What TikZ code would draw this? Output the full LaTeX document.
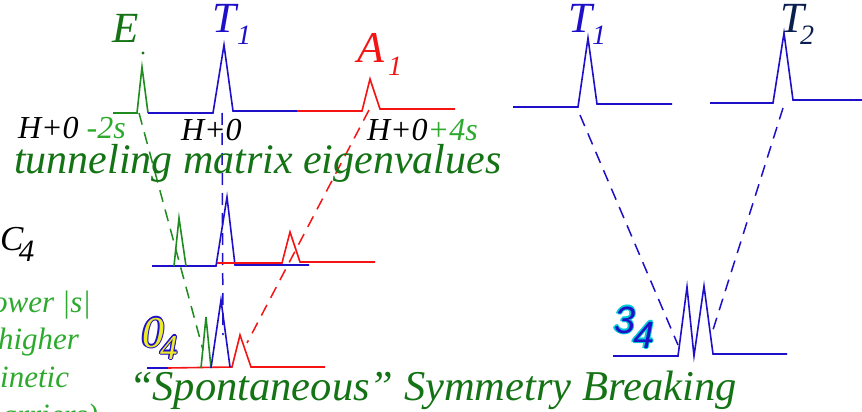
\documentclass[tikz,border=0pt]{standalone}
\usepackage{fontspec}
\setmainfont{Liberation Serif}
\newfontfamily\sansfam{Liberation Sans}
\definecolor{dgreen}{RGB}{20,115,20}
\definecolor{lgreen}{RGB}{45,170,45}
\definecolor{lngreen}{RGB}{30,140,30}
\definecolor{sblue}{RGB}{30,15,200}
\definecolor{sred}{RGB}{245,20,20}
\definecolor{navy}{RGB}{10,30,80}
\definecolor{cyanh}{RGB}{0,205,215}
\definecolor{yel}{RGB}{235,235,40}
\newcommand{\myfs}[1]{\fontsize{#1}{#1}\selectfont}
\newcommand{\halo}[6]{% #1 x, #2 y, #3 halo colour, #4 text colour, #5 offset, #6 text
  \foreach \dx/\dy in {1/0,-1/0,0/1,0/-1,0.7/0.7,-0.7/0.7,0.7/-0.7,-0.7/-0.7}{
    \node[lbl,text=#3] at ($(#1,#2)+(#5*\dx,#5*\dy)$) {#6};}
  \node[lbl,text=#4] at (#1,#2) {#6};}
\usetikzlibrary{calc}
\tikzset{
  x=1pt, y=-1pt,
  spec/.style={line width=1.6pt, line join=miter},
  dsh/.style={line width=1.5pt, dash pattern=on 12pt off 8pt},
  lbl/.style={anchor=base west, inner sep=0pt, outer sep=0pt, font=\itshape},
}
\begin{document}
\begin{tikzpicture}
\useasboundingbox (0,0) rectangle (862,412);
\clip (0,0) rectangle (862,412);
\fill[white] (0,0) rectangle (862,412);

% ---------- coordinates ----------
\coordinate (Es) at (139,113);  \coordinate (Ee) at (203,350);
\coordinate (Ts) at (222,113);  \coordinate (Te) at (223,335);
\coordinate (As) at (369,110);  \coordinate (Ae) at (247,343);
\coordinate (Rs) at (580,115);  \coordinate (Re) at (678,345);
\coordinate (Qs) at (783,108);  \coordinate (Qe) at (712,333);

% ---------- dashed correlation lines ----------
\draw[dsh,lngreen] (Es) -- (Ee);
\draw[dsh,sblue] (Ts) -- (Te);
\draw[dsh,sred] (As) -- (Ae);
\draw[dsh,sblue] (Rs) -- (Re);
\draw[dsh,sblue] (Qs) -- (Qe);

% ---------- top spectrum ----------
\draw[spec,lngreen] (113,113) -- (137,113) -- (142,67) -- (148,113);
\fill[dgreen] (143,53) circle (1.6);
\draw[spec,sblue] (148,113) -- (213,113) -- (224,45) -- (233,111) -- (297,111);
\draw[spec,sred] (297,111) -- (362,111) -- (370,79) -- (380,109) -- (455,109);

% ---------- middle spectrum ----------
\draw[spec,sblue] (152,266) -- (216,266) -- (227,197) -- (235,265) -- (309,265);
\draw[spec,sred] (217,263) -- (282,263) -- (290,232) -- (300,262) -- (375,262);
\draw[spec,lngreen] (174,266) -- (179,218) -- (186,266);

% ---------- bottom spectrum ----------
\draw[spec,sblue] (147,368) -- (168,368);
\draw[spec,sred] (168,368) -- (232,367) -- (240,335) -- (251,367) -- (325,367);
\draw[spec,lngreen] (201,368) -- (206,317) -- (211,368);
\draw[spec,sblue] (211,368) -- (221,300) -- (230,367);

% ---------- right spectra ----------
\draw[spec,sblue] (513,107) -- (578,107) -- (588,38) -- (597,104) -- (672,104);
\draw[spec,sblue] (710,103) -- (773,103) -- (784,33) -- (793,100) -- (862,100);
\draw[spec,sblue] (613,356) -- (678,356) -- (687,287) -- (694,356) -- (704,286) -- (713,354) -- (787,354);

% ---------- labels ----------
\node[lbl,text=dgreen,font=\itshape\myfs{43}] (lE) at (112,43) {E};
\node[lbl,text=sblue,font=\itshape\myfs{43}] (lT) at (212,33) {T};
\node[lbl,text=sblue,font=\itshape\myfs{28}] (lT1) at (237,45) {1};
\node[lbl,text=sred,font=\itshape\myfs{44}] (lA) at (357,63) {A};
\node[lbl,text=sred,font=\itshape\myfs{28}] (lA1) at (388,76) {1};
\node[lbl,text=sblue,font=\itshape\myfs{43}] (rT) at (568,33) {T};
\node[lbl,text=sblue,font=\itshape\myfs{28}] (rT1) at (592,45) {1};
\node[lbl,text=navy,font=\itshape\myfs{43}] (rQ) at (780,33) {T};
\node[lbl,text=navy,font=\itshape\myfs{28}] (rQ2) at (800,45) {2};

\node[lbl,font=\itshape\myfs{32}] (h1) at (18,138) {H+0 \textcolor{lgreen}{-2s}};
\node[lbl,font=\itshape\myfs{32}] (h2) at (181,140) {H+0};
\node[lbl,font=\itshape\myfs{32}] (h3) at (367,140) {H+0\textcolor{lgreen}{+4s}};
\node[lbl,text=dgreen,font=\itshape\myfs{42}] (tm) at (14,173) {tunneling matrix eigenvalues};

\node[lbl,font=\itshape\myfs{35}] (c4) at (0,250) {C};
\node[lbl,font=\itshape\myfs{31}] (c4s) at (19,261) {4};

\node[lbl,text=lgreen,font=\itshape\myfs{31},anchor=base east] (g1) at (91,312) {ower |s|};
\node[lbl,text=lgreen,font=\itshape\myfs{31},anchor=base east] (g2) at (79,349) {higher};
\node[lbl,text=lgreen,font=\itshape\myfs{31},anchor=base east] (g3) at (69,387) {inetic};
\node[lbl,text=lgreen,font=\itshape\myfs{31},anchor=base east] (g4) at (98,425) {arriers)};

\halo{142}{347}{sblue}{yel}{1.1}{\myfs{44}0}
\halo{160}{359}{sblue}{yel}{1.1}{\myfs{35}4}
\halo{614}{333}{cyanh}{sblue}{1.3}{\sansfam\itshape\myfs{38}3}
\halo{633}{348}{cyanh}{sblue}{1.3}{\sansfam\itshape\myfs{38}4}

\node[lbl,text=dgreen,font=\itshape\myfs{42.5}] (sb) at (129,400) {“Spontaneous” Symmetry Breaking};
\end{tikzpicture}
\end{document}
